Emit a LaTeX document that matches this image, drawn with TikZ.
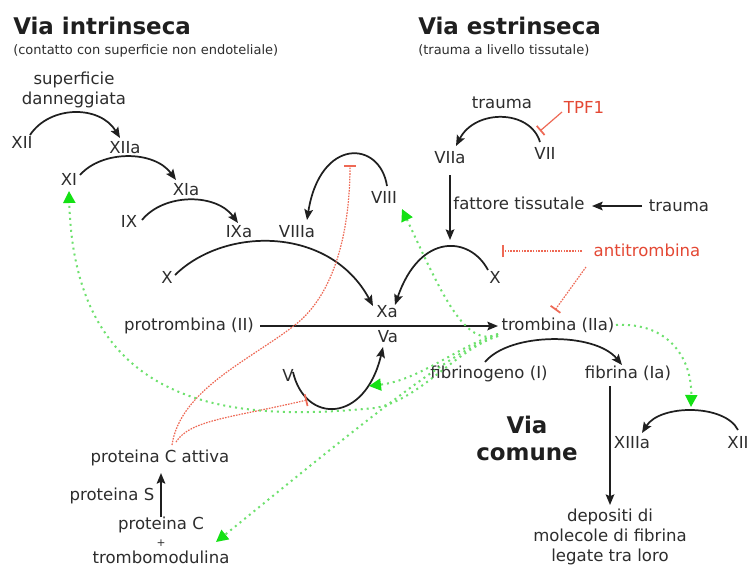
\documentclass[tikz,border=0pt]{standalone}
\usepackage{fontspec}
\setmainfont{DejaVu Sans}
\usetikzlibrary{arrows.meta,calc}
\definecolor{txt}{RGB}{45,45,45}
\definecolor{inh}{RGB}{228,72,52}
\definecolor{inhl}{RGB}{238,105,85}
\definecolor{act}{RGB}{110,225,110}
\definecolor{acth}{RGB}{20,225,20}
\begin{document}
\begin{tikzpicture}[x=0.75pt,y=-0.75pt,
  lbl/.style={text=txt,inner sep=0pt,font=\fontsize{12.4}{14.8}\selectfont},
  redlbl/.style={lbl,text=inh},
  ttl/.style={text=black!88,inner sep=0pt,font=\fontsize{17.2}{20.3}\selectfont\bfseries},
  subt/.style={text=txt,inner sep=0pt,font=\fontsize{9.75}{12}\selectfont},
  conv/.style={draw=black!88,line width=1.3pt,-{Stealth[length=8pt,width=6.5pt,inset=1.5pt]}},
  inhib/.style={draw=inhl,line width=0.9pt,dash pattern=on 1.2pt off 0.9pt,-{Bar[width=9pt,line width=1.3pt]}},
  inhsolid/.style={draw=inhl,line width=0.9pt,-{Bar[width=9pt,line width=1.3pt]}},
  activ/.style={draw=act,line width=1.5pt,dash pattern=on 1.5pt off 3pt,-{Triangle[length=9pt,width=9pt,color=acth]}}]
\useasboundingbox (0,0) rectangle (750,565);
\fill[white] (0,0) rectangle (750,565);

% titles
\node[ttl,anchor=base west] (tint) at (13,34) {Via intrinseca};
\node[subt,anchor=base west] (sint) at (13,54) {(contatto con superficie non endoteliale)};
\node[ttl,anchor=base west] (test) at (418,34) {Via estrinseca};
\node[subt,anchor=base west] (sest) at (418,54) {(trauma a livello tissutale)};
\node[ttl,anchor=north,align=center] (comune) at (527,416) {Via\\comune};

% labels
\node[lbl,anchor=north,align=center] (surf) at (74,72) {superficie\\danneggiata};
\node[lbl,anchor=base] (xii) at (22,148) {XII};
\node[lbl,anchor=base] (xiia) at (125,153) {XIIa};
\node[lbl,anchor=base] (xi) at (69,185) {XI};
\node[lbl,anchor=base] (xia) at (186,195) {XIa};
\node[lbl,anchor=base] (ix) at (129,227) {IX};
\node[lbl,anchor=base] (ixa) at (239,237) {IXa};
\node[lbl,anchor=base] (viiia) at (297,237) {VIIIa};
\node[lbl,anchor=base] (viii) at (384,203) {VIII};
\node[lbl,anchor=base] (xl) at (167,283) {X};
\node[lbl,anchor=base] (xa) at (387,317) {Xa};
\node[lbl,anchor=base] (va) at (388,342) {Va};
\node[lbl,anchor=base] (v) at (288,381) {V};
\node[lbl,anchor=base] (protr) at (189,330) {protrombina (II)};
\node[lbl,anchor=base] (tromb) at (558,330) {trombina (IIa)};
\node[lbl,anchor=base] (fibrinog) at (489,378) {fibrinogeno (I)};
\node[lbl,anchor=base] (fibrina) at (628,378) {fibrina (Ia)};
\node[lbl,anchor=base] (xr) at (495,283) {X};
\node[lbl,anchor=base] (viia) at (450,163) {VIIa};
\node[lbl,anchor=base] (vii) at (545,159) {VII};
\node[lbl,anchor=base] (ft) at (519,209) {fattore tissutale};
\node[lbl,anchor=base] (traumar) at (679,211) {trauma};
\node[lbl,anchor=base] (traumat) at (502,108) {trauma};
\node[redlbl,anchor=base] (tpf) at (584,113) {TPF1};
\node[redlbl,anchor=base] (antit) at (647,256) {antitrombina};
\node[lbl,anchor=base] (xiiia) at (632,448) {XIIIa};
\node[lbl,anchor=base] (xiir) at (738,448) {XII};
\node[lbl,anchor=north,align=center] (dep) at (610,509) {depositi di\\molecole di fibrina\\legate tra loro};
\node[lbl,anchor=base] (pca) at (160,462) {proteina C attiva};
\node[lbl,anchor=base] (ps) at (112,500) {proteina S};
\node[lbl,anchor=north,align=center] (pc) at (161,517) {proteina C\\[-2pt]{\fontsize{8}{8}\selectfont +}\\[-2pt]trombomodulina};
\coordinate (xpeak) at (450,240);

% conversions (black)
\draw[conv] ($(xii.base)+(8,-13)$) .. controls +(20,-30) and +(-20,-33) .. ($(xiia.base)+(-5,-15)$);
\draw[conv] ($(xi.base)+(11,-10)$) .. controls +(22,-25) and +(-22,-30) .. ($(xia.base)+(-10,-15)$);
\draw[conv] ($(ix.base)+(13,-7)$) .. controls +(22,-27) and +(-22,-30) .. ($(ixa.base)+(-1,-14)$);
\draw[conv] ($(xl.base)+(8,-8)$) .. controls +(50,-49) and +(-43,-80) .. ($(xa.base)+(-14,-11)$);
\draw[conv] ($(xr.base)+(-7,-13)$) .. controls +(-18,-34) and +(25,-73) .. ($(xa.base)+(8,-12)$);
\draw[conv] ($(viii.base)+(3,-17)$) .. controls +(-7,-46) and +(13,-83) .. ($(viiia.base)+(10,-17)$);
\draw[conv] ($(vii.base)+(-5,-17)$) .. controls +(-10,-33) and +(19,-37) .. ($(viia.base)+(6,-17)$);
\draw[conv] ($(viia.base)+(0,12)$) -- (xpeak);
\draw[conv] ($(traumar.base)+(-37,-5)$) -- ($(ft.base)+(73,-3)$);
\draw[conv] ($(protr.base)+(71,-4)$) -- ($(tromb.base)+(-60,-4)$);
\draw[conv] ($(fibrinog.base)+(-4,-16)$) .. controls +(25,-30) and +(-27,-33) .. ($(fibrina.base)+(-6,-13)$);
\draw[conv] ($(fibrina.base)+(-18,8)$) -- ($(dep.north)+(0,-4)$);
\draw[conv] ($(xiir.base)+(0,-18)$) .. controls +(-13,-26) and +(18,-29) .. ($(xiiia.base)+(10,-15)$);
\draw[conv] ($(v.base)+(5,-9)$) .. controls +(12,52) and +(-18,77) .. ($(va.base)+(-5,5)$);
\draw[conv] (pc.north) -- ($(pca.base)+(1,11)$);

% inhibitions (red)
\draw[inhsolid] ($(tpf.base)+(-22,-1)$) -- ($(vii.base)+(-5,-28)$);
\draw[inhib] ($(antit.base)+(-65,-5)$) -- ($(xr.base)+(7,-32)$);
\draw[inhib] ($(antit.base)+(-61,11)$) -- ($(tromb.base)+(-3,-20)$);
\draw[inhib] ($(pca.base)+(12,-17)$) .. controls (180,390) and (250,360) .. (295,325)
   .. controls (335,294) and (350,230) .. ($(viii.base)+(-34,-38)$);
\draw[inhib] ($(pca.base)+(16,-20)$) .. controls (190,420) and (230,418) .. ($(v.base)+(19,19)$);

% activations by thrombin (green)
\draw[activ] ($(tromb.base)+(58,-5)$) .. controls (670,322) and (692,360) .. ($(xiiia.base)+(59,-41)$);
\draw[activ] ($(tromb.base)+(-60,4)$) .. controls (465,350) and (440,290) .. ($(viii.base)+(18,6)$);
\draw[activ] ($(tromb.base)+(-60,4)$) .. controls (460,345) and (420,380) .. ($(v.base)+(81,5)$);
\draw[activ] ($(tromb.base)+(-60,6)$) .. controls (455,350) and (420,400) .. (375,408)
   .. controls (250,420) and (75,420) .. ($(xi.base)+(0,6)$);
\draw[activ] ($(tromb.base)+(-60,6)$) .. controls (455,345) and (330,450) .. ($(pc.north)+(55,25)$);
\end{tikzpicture}
\end{document}
